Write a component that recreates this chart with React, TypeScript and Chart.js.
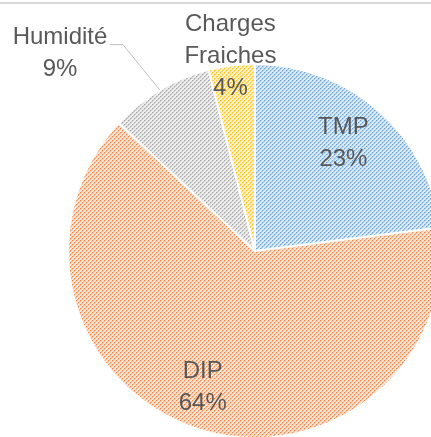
import React, { useEffect, useRef } from "react";
import { Chart, registerables } from "chart.js";

Chart.register(...registerables);

const categories = ["TMP", "DIP", "Humidité", "Charges Fraiches"];
const values = [23, 64, 9, 4];
const percentLabels = ["23%", "64%", "9%", "4%"];
const labelLines = [["TMP"], ["DIP"], ["Humidité"], ["Charges", "Fraiches"]];

const lightColors = ["#DDEBF7", "#FCE5D6", "#EDEDED", "#FFF2CC"];
const lineColors = ["#A9CBEA", "#F6BE98", "#D0D0D0", "#FFDE7A"];
const dotColors = ["#6FA6DA", "#EE8645", "#AAAAAA", "#FFC21A"];

const FONT = '24px "Liberation Sans", Arial, sans-serif';
const TEXT_COLOR = "#595959";
const LINE_H = 32;

function makePattern(light: string, line: string, dot: string): CanvasPattern | string {
  const c = document.createElement("canvas");
  const T = 8;
  c.width = T;
  c.height = T;
  const ctx = c.getContext("2d");
  if (!ctx) return line;
  ctx.fillStyle = light;
  ctx.fillRect(0, 0, T, T);
  for (let y = 0; y < T; y++) {
    for (let x = 0; x < T; x++) {
      const d = (x + y) % 4;
      if (d === 0) {
        ctx.fillStyle = x % 2 === 0 ? dot : line;
        ctx.fillRect(x, y, 1, 1);
      } else if (d === 1) {
        ctx.fillStyle = line;
        ctx.fillRect(x, y, 1, 1);
      }
    }
  }
  const p = ctx.createPattern(c, "repeat");
  return p || line;
}

// label layout: angle shift (deg) and radial factor
const labelLayout = [
  { shift: -2, factor: 0.745, leader: false },
  { shift: 3, factor: 0.78, leader: false },
  { shift: -2, factor: 1.31, leader: true },
  { shift: 0, factor: 1.05, leader: false },
];

const labelPlugin = {
  id: "sliceLabels",
  beforeDraw(chart: any) {
    const ctx = chart.ctx;
    ctx.save();
    ctx.fillStyle = "#D9D9D9";
    ctx.fillRect(0, 2, chart.width, 2);
    ctx.restore();
  },
  afterDatasetsDraw(chart: any) {
    const ctx = chart.ctx;
    const meta = chart.getDatasetMeta(0);
    ctx.save();
    ctx.font = FONT;
    ctx.fillStyle = TEXT_COLOR;
    ctx.textAlign = "center";
    ctx.textBaseline = "middle";
    meta.data.forEach((arc: any, i: number) => {
      const p = arc.getProps(["x", "y", "startAngle", "endAngle", "outerRadius"], true);
      const mid = (p.startAngle + p.endAngle) / 2;
      const lay = labelLayout[i];
      const a = mid + (lay.shift * Math.PI) / 180;
      const lines = [...labelLines[i], percentLabels[i]];
      if (lay.leader) {
        const sx = p.x + Math.cos(mid) * p.outerRadius;
        const sy = p.y + Math.sin(mid) * p.outerRadius;
        const ex = p.x + Math.cos(a) * p.outerRadius * lay.factor;
        const ey = p.y + Math.sin(a) * p.outerRadius * lay.factor;
        ctx.save();
        ctx.strokeStyle = "#BFBFBF";
        ctx.lineWidth = 1;
        ctx.beginPath();
        ctx.moveTo(sx, sy);
        ctx.lineTo(ex, ey);
        ctx.lineTo(ex - 13, ey);
        ctx.stroke();
        ctx.restore();
        const cx = ex - 63;
        const top = ey - 7;
        lines.forEach((t, k) => ctx.fillText(t, cx, top + k * LINE_H));
      } else {
        const cx = p.x + Math.cos(a) * p.outerRadius * lay.factor;
        const cy = p.y + Math.sin(a) * p.outerRadius * lay.factor;
        const top = cy - ((lines.length - 1) * LINE_H) / 2;
        lines.forEach((t, k) => ctx.fillText(t, cx, top + k * LINE_H));
      }
    });
    ctx.restore();
  },
};

export default function App() {
  const ref = useRef<HTMLCanvasElement | null>(null);
  useEffect(() => {
    if (!ref.current) return;
    const patterns = values.map((_, i) => makePattern(lightColors[i], lineColors[i], dotColors[i]));
    const chart = new Chart(ref.current, {
      type: "pie",
      data: {
        labels: categories,
        datasets: [
          {
            data: values,
            backgroundColor: patterns as any,
            borderColor: "#FFFFFF",
            borderWidth: 2,
            radius: 187,
          } as any,
        ],
      },
      options: {
        responsive: false,
        animation: false,
        devicePixelRatio: 1,
        layout: { padding: 0 },
        plugins: {
          legend: { display: false },
          tooltip: { enabled: false },
        },
      },
      plugins: [labelPlugin],
    });
    return () => chart.destroy();
  }, []);
  return (
    <div
      style={{
        position: "fixed",
        left: 0,
        top: 0,
        width: 431,
        height: 437,
        overflow: "hidden",
        background: "#FFFFFF",
      }}
    >
      <canvas ref={ref} width={510} height={502} style={{ width: 510, height: 502, display: "block" }} />
    </div>
  );
}
